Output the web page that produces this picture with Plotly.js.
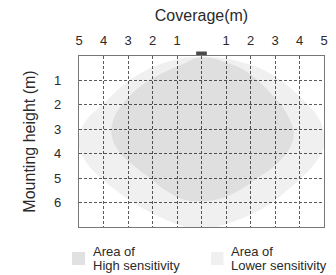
<!DOCTYPE html>
<html><head><meta charset="utf-8">
<script src="https://cdn.plot.ly/plotly-3.0.1.min.js"></script>
<style>html,body{margin:0;padding:0;background:#fff;} #chart{width:336px;height:275px;}</style>
</head><body><div id="chart"></div>
<script>
// Axis ticks
const xTickVals = [-5, -4, -3, -2, -1, 0, 1, 2, 3, 4, 5];
const xTickText = ['5', '4', '3', '2', '1', '', '1', '2', '3', '4', '5'];
const yTickVals = [1, 2, 3, 4, 5, 6];
const yTickText = ['1', '2', '3', '4', '5', '6'];

// Area of lower sensitivity (outline, metres)
const lowX = [0, 0.9, 1.8, 2.6, 3.25, 3.85, 4.35, 4.75, 4.97, 5.05, 4.88, 4.55, 4.05, 3.5, 2.9, 2.0, 1.1, 0.3, -0.4, -1.2, -2.0, -2.8, -3.5, -4.1, -4.6, -4.9, -5.05, -4.92, -4.6, -4.05, -3.55, -2.95, -2.3, -1.5, -0.8];
const lowY = [0.02, 0.08, 0.3, 0.6, 1.0, 1.5, 2.0, 2.5, 3.0, 3.5, 4.0, 4.5, 5.0, 5.5, 6.0, 6.5, 6.85, 7.1, 7.08, 6.82, 6.45, 6.0, 5.5, 5.0, 4.5, 4.0, 3.5, 3.0, 2.5, 2.0, 1.5, 1.0, 0.6, 0.27, 0.07];

// Area of high sensitivity (outline, metres)
const highX = [0, 0.5, 1.0, 1.7, 2.3, 2.8, 3.25, 3.55, 3.75, 3.72, 3.45, 2.8, 2.25, 1.7, 0.9, 0, -0.8, -1.6, -2.1, -2.75, -3.3, -3.6, -3.68, -3.55, -3.25, -2.8, -2.15, -1.5, -0.8, -0.3];
const highY = [0.05, 0.1, 0.27, 0.55, 1.0, 1.5, 2.0, 2.5, 3.0, 3.5, 4.0, 4.65, 5.0, 5.4, 5.8, 5.95, 5.85, 5.4, 5.0, 4.5, 4.0, 3.5, 3.0, 2.5, 2.0, 1.5, 1.0, 0.65, 0.35, 0.1];

// Sensor (mounted at the top, centre)
const sensorX = [0];
const sensorY = [0];

const seriesNames = ['High sensitivity', 'Lower sensitivity'];
const legendLines = [['Area of', 'High sensitivity'], ['Area of', 'Lower sensitivity']];
const highColor = 'rgba(0,0,0,0.07)';
const lowColor = 'rgba(0,0,0,0.058)';
const highLegendColor = '#e1e1e1';
const lowLegendColor = '#f0f0f0';
const sensorColor = '#4a4a4a';

const FONT = 'Liberation Sans, Arial, sans-serif';
const TXT = '#2a2a2a';

const traces = [
  {x: lowX, y: lowY, type: 'scatter', mode: 'lines', fill: 'toself', fillcolor: lowColor,
   line: {width: 0, shape: 'spline', smoothing: 1, color: 'rgba(0,0,0,0)'}, name: seriesNames[1], hoverinfo: 'skip'},
  {x: highX, y: highY, type: 'scatter', mode: 'lines', fill: 'toself', fillcolor: highColor,
   line: {width: 0, shape: 'spline', smoothing: 1, color: 'rgba(0,0,0,0)'}, name: seriesNames[0], hoverinfo: 'skip'},
  {x: sensorX, y: sensorY, type: 'scatter', mode: 'markers', cliponaxis: false,
   marker: {symbol: 'line-ew-open', size: 7.6, angle: 180, standoff: 2.3, color: sensorColor,
            line: {width: 4.4, color: sensorColor}}, hoverinfo: 'skip'}
];

const L = 79, R = 12, T = 56, B = 48, W = 336, H = 275;
const pw = W - L - R, ph = H - T - B;
const px2x = p => (p - L) / pw;
const py2y = p => (H - B - p) / ph;

const legendSq = [{x0: 72, x1: 85, color: highLegendColor, tx: 91}, {x0: 211, x1: 223.5, color: lowLegendColor, tx: 229}];
const shapes = [];
const annotations = [];
legendSq.forEach((s, i) => {
  shapes.push({type: 'rect', xref: 'paper', yref: 'paper', x0: px2x(s.x0), x1: px2x(s.x1), y0: py2y(265), y1: py2y(252),
    fillcolor: s.color, line: {width: 0}});
  annotations.push({xref: 'paper', yref: 'paper', x: px2x(s.tx), y: py2y(251.5), xanchor: 'left', yanchor: 'middle',
    text: legendLines[i][0], showarrow: false, font: {family: FONT, size: 13, color: TXT}});
  annotations.push({xref: 'paper', yref: 'paper', x: px2x(s.tx), y: py2y(265), xanchor: 'left', yanchor: 'middle',
    text: legendLines[i][1], showarrow: false, font: {family: FONT, size: 13, color: TXT}});
});

const layout = {
  width: W, height: H,
  margin: {l: L, r: R, t: T, b: B},
  paper_bgcolor: '#fff', plot_bgcolor: '#fff',
  showlegend: false,
  font: {family: FONT, color: TXT},
  title: {text: 'Coverage(m)', x: 0.5, xref: 'paper', xanchor: 'center', y: 1 - 15/H, yref: 'container', yanchor: 'middle',
    font: {family: FONT, size: 16, color: TXT}},
  xaxis: {range: [-5, 5], side: 'top', tickvals: xTickVals, ticktext: xTickText, fixedrange: true,
    showgrid: true, gridcolor: '#5a5a5a', griddash: '3px,2px', gridwidth: 1, zeroline: false,
    showline: true, mirror: true, linecolor: '#777', linewidth: 1.2,
    ticks: 'outside', ticklen: 5, tickcolor: 'rgba(0,0,0,0)', tickfont: {family: FONT, size: 13, color: TXT}},
  yaxis: {range: [7, 0], tickvals: yTickVals, ticktext: yTickText, fixedrange: true,
    showgrid: true, gridcolor: '#5a5a5a', griddash: '3px,2px', gridwidth: 1, zeroline: false,
    showline: true, mirror: true, linecolor: '#777', linewidth: 1.2,
    ticks: 'outside', ticklen: 14, tickcolor: 'rgba(0,0,0,0)', tickfont: {family: FONT, size: 13, color: TXT},
    title: {text: 'Mounting height (m)', standoff: 14, font: {family: FONT, size: 16, color: TXT}}},
  shapes: shapes,
  annotations: annotations
};

Plotly.newPlot('chart', traces, layout, {displayModeBar: false, staticPlot: true});
</script></body></html>
